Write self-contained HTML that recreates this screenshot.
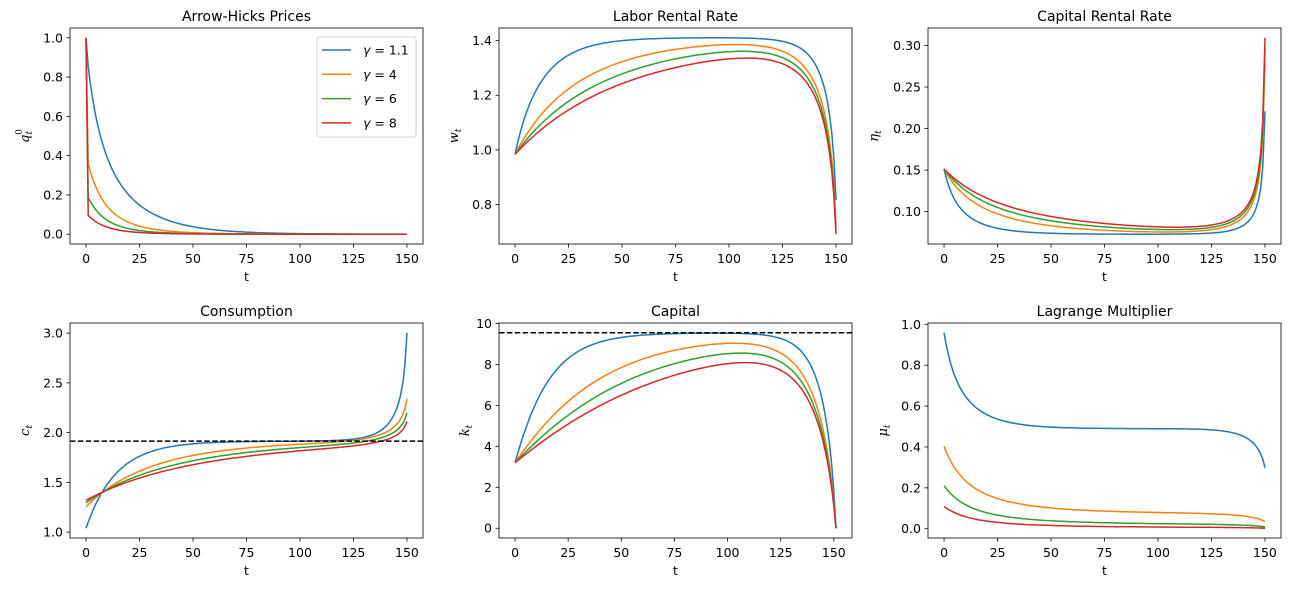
<!DOCTYPE html>
<html><head><meta charset="utf-8"><style>
body{margin:0;background:#fff;}
svg{display:block;font-family:"DejaVu Sans","Liberation Sans",sans-serif;}
</style></head><body>
<svg id="s" width="1289" height="590" xmlns="http://www.w3.org/2000/svg"></svg>
<script>
const al=0.33,de=0.02,kss=9.55;
const f=k=>Math.pow(k,al), fp=k=>al*Math.pow(k,al-1);
const beta=1/(fp(kss)+1-de);
const T=150,k0=3.2;
function sim(c0,g){let k=[k0],c=[c0];
 for(let t=0;t<=T;t++){let kn=f(k[t])+(1-de)*k[t]-c[t];
  if(kn<0)return {fail:1};
  k.push(kn); if(t<T){c.push(c[t]*Math.pow(beta*(fp(kn)+1-de),1/g));}}
 return {k,c};}
function solve(g){let lo=0.01,hi=f(k0)+(1-de)*k0,r=null;
 for(let i=0;i<200;i++){let m=(lo+hi)/2,s=sim(m,g);
  if(s.fail)hi=m;else{r=s;if(s.k[T+1]>1e-9)lo=m;else hi=m;}}
 return r;}
const G=[1.1,4,6,8],C=['#1f77b4','#ff7f0e','#2ca02c','#d62728'];
const D=G.map(g=>{let s=solve(g);let k=s.k,c=s.c;
 let w=[],eta=[],mu=[],q=[];
 for(let t=0;t<=T;t++){w.push((1-al)*f(k[t]));eta.push(fp(k[t]));mu.push(Math.pow(c[t],-g));
  q.push(t==0?1:Math.pow(beta,t)*Math.pow(c[t],-g));}
 return {k,c,w,eta,mu,q};});
const css=Math.pow(kss,al)-de*kss;
const P=[
 {x:70,y:28,h:216,t:'Arrow-Hicks Prices',key:'q',lab:['q','t','0'],ticks:[0,.2,.4,.6,.8,1],fd:1},
 {x:499,y:28,h:216,t:'Labor Rental Rate',key:'w',lab:['w','t'],ticks:[.8,1,1.2,1.4],fd:1},
 {x:928,y:28,h:216,t:'Capital Rental Rate',key:'eta',lab:['η','t'],ticks:[.1,.15,.2,.25,.3],fd:2},
 {x:70,y:323,h:215,t:'Consumption',key:'c',lab:['c','t'],ticks:[1,1.5,2,2.5,3],fd:1,hl:css},
 {x:499,y:323,h:215,t:'Capital',key:'k',lab:['k','t'],ticks:[0,2,4,6,8,10],fd:0,hl:kss},
 {x:928,y:323,h:215,t:'Lagrange Multiplier',key:'mu',lab:['μ','t'],ticks:[0,.2,.4,.6,.8,1],fd:1}];
const W=353;let o='';
P.forEach((p,pi)=>{
 let mn=1e9,mx=-1e9,n=0;D.forEach(d=>{d[p.key].forEach(v=>{mn=Math.min(mn,v);mx=Math.max(mx,v);});n=Math.max(n,d[p.key].length-1);});
 if(p.hl!==undefined){mn=Math.min(mn,p.hl);mx=Math.max(mx,p.hl);}
 let r=mx-mn;let y0=mn-.05*r,y1=mx+.05*r;let x0=-.05*n,x1=n*1.05;
 const X=v=>p.x+(v-x0)/(x1-x0)*W,Y=v=>p.y+p.h-(v-y0)/(y1-y0)*p.h;
 o+=`<defs><clipPath id="c${pi}"><rect x="${p.x}" y="${p.y}" width="${W}" height="${p.h}"/></clipPath></defs><g clip-path="url(#c${pi})">`;
 D.forEach((d,i)=>{let a=d[p.key];o+=`<polyline fill="none" stroke="${C[i]}" stroke-width="1.5" points="${a.map((v,t)=>X(t).toFixed(1)+','+Y(v).toFixed(1)).join(' ')}"/>`;});
 if(p.hl!==undefined)o+=`<line x1="${p.x}" x2="${p.x+W}" y1="${Y(p.hl)}" y2="${Y(p.hl)}" stroke="#000" stroke-width="1.5" stroke-dasharray="5.5,2.4"/>`;
 o+='</g>';
 o+=`<rect x="${p.x}" y="${p.y}" width="${W}" height="${p.h}" fill="none" stroke="#000" stroke-width="0.8"/>`;
 [0,25,50,75,100,125,150].forEach(v=>{let xx=X(v);o+=`<line x1="${xx}" x2="${xx}" y1="${p.y+p.h}" y2="${p.y+p.h+3.5}" stroke="#000" stroke-width="0.8"/><text x="${xx}" y="${p.y+p.h+19}" font-size="12.5" text-anchor="middle">${v}</text>`;});
 p.ticks.forEach(v=>{let yy=Y(v);o+=`<line x1="${p.x-3.5}" x2="${p.x}" y1="${yy}" y2="${yy}" stroke="#000" stroke-width="0.8"/><text x="${p.x-7}" y="${yy+4.5}" font-size="12.5" text-anchor="end">${v.toFixed(p.fd)}</text>`;});
 o+=`<text x="${p.x+W/2}" y="${p.y+p.h+37}" font-size="12.5" text-anchor="middle">t</text>`;
 o+=`<text x="${p.x+W/2}" y="${p.y-7}" font-size="14" text-anchor="middle">${p.t}</text>`;
 let lx=p.x-(p.fd==2?50:p.fd==0?30:41),ly=p.y+p.h/2;
 o+=`<text transform="translate(${lx},${ly}) rotate(-90)" font-size="13" text-anchor="middle" font-family="DejaVu Serif,serif"><tspan font-style="italic">${p.lab[0]}</tspan><tspan font-size="9" dy="3" font-style="italic">${p.lab[1]}</tspan>${p.lab[2]?`<tspan font-size="9" dy="-10" dx="-4">0</tspan>`:''}</text>`;
});
// legend
o+=`<rect x="317" y="37" width="99" height="100" rx="2" fill="#fff" stroke="#ccc" stroke-width="0.8"/>`;
['1.1','4','6','8'].forEach((g,i)=>{let y=50+i*24.3;o+=`<line x1="322" x2="351" y1="${y}" y2="${y}" stroke="${C[i]}" stroke-width="1.5"/><text x="363" y="${y+4.5}" font-size="12.5"><tspan font-style="italic">γ</tspan> = ${g}</text>`;});
document.getElementById('s').innerHTML=o;
</script>
</body></html>
